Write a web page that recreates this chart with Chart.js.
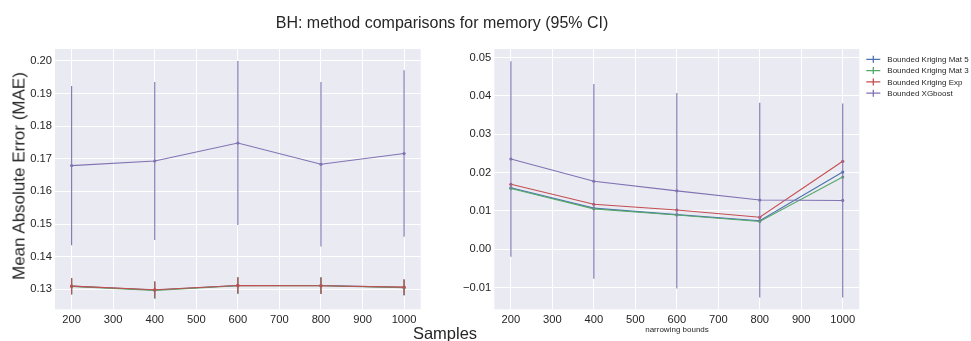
<!DOCTYPE html>
<html>
<head>
<meta charset="utf-8">
<script src="https://cdn.jsdelivr.net/npm/chart.js@4.4.1/dist/chart.umd.min.js"></script>
<style>
  html, body { margin: 0; padding: 0; background: #ffffff; }
  body { width: 971px; height: 341px; position: relative; overflow: hidden;
         font-family: "Liberation Sans", Arial, sans-serif; color: #262626; }
  canvas { position: absolute; top: 0; }
  .txt { position: absolute; white-space: nowrap; line-height: 1; transform: translate(-50%, -50%); }
</style>
</head>
<body>
<canvas id="memChart" width="440" height="341" style="left:0px"></canvas>
<canvas id="narChart" width="531" height="341" style="left:440px"></canvas>

<div class="txt" style="left:442px; top:23px; font-size:16px;">BH: method comparisons for memory (95% CI)</div>
<div class="txt" style="left:19px; top:176px; font-size:17px; transform: translate(-50%, -50%) rotate(-90deg);">Mean Absolute Error (MAE)</div>
<div class="txt" style="left:445px; top:333px; font-size:16.5px;">Samples</div>
<div class="txt" style="left:677px; top:329.5px; font-size:8px;">narrowing bounds</div>

<script>
// ---- data ----
const samples = [200, 400, 600, 800, 1000];
const seriesNames = ['Bounded Kriging Mat 5', 'Bounded Kriging Mat 3', 'Bounded Kriging Exp', 'Bounded XGboost'];
const seriesColors = ['#4C72B0', '#55A868', '#C44E52', '#8172B2'];

// memory: mean absolute error and 95% CI half-widths
const memMat5 = [0.1310, 0.1298, 0.1312, 0.1312, 0.1306];
const memMat3 = [0.1309, 0.1297, 0.1311, 0.1311, 0.1305];
const memExp  = [0.1310, 0.1299, 0.1312, 0.1311, 0.1307];
const memXgb  = [0.1679, 0.1693, 0.1748, 0.1683, 0.1716];
const memMat5Ci = [0.0025, 0.0026, 0.0025, 0.0025, 0.0024];
const memMat3Ci = [0.0025, 0.0026, 0.0025, 0.0025, 0.0024];
const memExpCi  = [0.0025, 0.0025, 0.0025, 0.0025, 0.0024];
const memXgbCi  = [0.0244, 0.0242, 0.0251, 0.0252, 0.0255];

// narrowing bounds: mean absolute error and 95% CI half-widths
const narMat5 = [0.0160, 0.0107, 0.0090, 0.0074, 0.0201];
const narMat3 = [0.0158, 0.0105, 0.0089, 0.0072, 0.0188];
const narExp  = [0.0169, 0.0117, 0.0102, 0.0083, 0.0229];
const narXgb  = [0.0235, 0.0177, 0.0152, 0.0128, 0.0127];
const narMat5Ci = [0.0003, 0.0003, 0.0003, 0.0003, 0.0003];
const narMat3Ci = [0.0003, 0.0003, 0.0003, 0.0003, 0.0003];
const narExpCi  = [0.0003, 0.0003, 0.0003, 0.0003, 0.0003];
const narXgbCi  = [0.0255, 0.0254, 0.0255, 0.0254, 0.0253];

// ticks
const xTicks = [200, 300, 400, 500, 600, 700, 800, 900, 1000];
const memYTicks = [0.13, 0.14, 0.15, 0.16, 0.17, 0.18, 0.19, 0.20];
const narYTicks = [-0.01, 0.00, 0.01, 0.02, 0.03, 0.04, 0.05];

// ---- helpers ----
Chart.defaults.font.family = '"Liberation Sans", Arial, sans-serif';
Chart.defaults.color = '#262626';

function buildDatasets(means, cis) {
  return means.map((vals, k) => ({
    label: seriesNames[k],
    data: samples.map((s, i) => ({ x: s, y: vals[i] })),
    ci: cis[k],
    borderColor: seriesColors[k],
    backgroundColor: seriesColors[k],
    borderWidth: 1.1,
    pointRadius: 1.6,
    pointHoverRadius: 1.6,
    pointBorderWidth: 0,
    tension: 0,
    order: 4 - k
  }));
}

const fmt = v => (v < 0 ? '\u2212' : '') + Math.abs(v).toFixed(2);

const plotBackground = {
  id: 'plotBackground',
  beforeDraw(chart) {
    const { ctx, chartArea: a } = chart;
    ctx.save();
    ctx.fillStyle = '#EAEAF2';
    ctx.fillRect(a.left, a.top, a.right - a.left, a.bottom - a.top);
    ctx.restore();
  }
};

// vertical confidence-interval bars drawn through the chart's own scales
const errorBars = {
  id: 'errorBars',
  afterDatasetDraw(chart, args) {
    const ds = chart.data.datasets[args.index];
    if (!ds.ci) return;
    const { ctx } = chart;
    const xs = chart.scales.x, ys = chart.scales.y;
    ctx.save();
    ctx.strokeStyle = ds.borderColor;
    ctx.lineWidth = 1.1;
    ds.data.forEach((p, i) => {
      const px = xs.getPixelForValue(p.x);
      ctx.beginPath();
      ctx.moveTo(px, ys.getPixelForValue(p.y - ds.ci[i]));
      ctx.lineTo(px, ys.getPixelForValue(p.y + ds.ci[i]));
      ctx.stroke();
    });
    ctx.restore();
  }
};

// legend with error-bar markers, placed to the right of the plot
const sideLegend = {
  id: 'sideLegend',
  afterDraw(chart) {
    const { ctx, chartArea: a } = chart;
    const x0 = a.right + 7, y0 = a.top + 10.3, step = 11.3;
    ctx.save();
    ctx.font = '8px "Liberation Sans", Arial, sans-serif';
    ctx.textBaseline = 'middle';
    ctx.textAlign = 'left';
    chart.data.datasets.forEach((ds, k) => {
      const y = y0 + k * step;
      ctx.strokeStyle = ds.borderColor;
      ctx.lineWidth = 1.3;
      ctx.beginPath();
      ctx.moveTo(x0, y); ctx.lineTo(x0 + 14, y);
      ctx.moveTo(x0 + 7, y - 3.5); ctx.lineTo(x0 + 7, y + 3.5);
      ctx.stroke();
      ctx.fillStyle = '#262626';
      ctx.fillText(ds.label, x0 + 21, y + 0.5);
    });
    ctx.restore();
  }
};

function makeOptions(yMin, yMax, yTicks, axisWidth, padRight) {
  return {
    responsive: false,
    animation: false,
    devicePixelRatio: 1,
    layout: { padding: { top: 49, left: 0, right: padRight, bottom: 0 } },
    plugins: { legend: { display: false }, tooltip: { enabled: false } },
    scales: {
      x: {
        type: 'linear', min: 160, max: 1040,
        afterBuildTicks: s => { s.ticks = xTicks.map(v => ({ value: v })); },
        afterFit: s => { s.height = 31.7; },
        ticks: { padding: 3.5, font: { size: 11.2 }, maxRotation: 0, autoSkip: false, callback: v => String(v) },
        grid: { color: '#ffffff', lineWidth: 1, drawTicks: false },
        border: { display: false }
      },
      y: {
        type: 'linear', min: yMin, max: yMax,
        afterBuildTicks: s => { s.ticks = yTicks.map(v => ({ value: v })); },
        afterFit: s => { s.width = axisWidth; },
        ticks: { padding: 3, font: { size: 11.2 }, autoSkip: false, callback: v => fmt(v) },
        grid: { color: '#ffffff', lineWidth: 1, drawTicks: false },
        border: { display: false }
      }
    }
  };
}

new Chart(document.getElementById('memChart'), {
  type: 'line',
  data: { datasets: buildDatasets([memMat5, memMat3, memExp, memXgb], [memMat5Ci, memMat3Ci, memExpCi, memXgbCi]) },
  options: makeOptions(0.1239, 0.2036, memYTicks, 55, 19.3),
  plugins: [plotBackground, errorBars]
});

new Chart(document.getElementById('narChart'), {
  type: 'line',
  data: { datasets: buildDatasets([narMat5, narMat3, narExp, narXgb], [narMat5Ci, narMat3Ci, narExpCi, narXgbCi]) },
  options: makeOptions(-0.0157, 0.0522, narYTicks, 54.3, 111.7),
  plugins: [plotBackground, errorBars, sideLegend]
});
</script>
</body>
</html>
